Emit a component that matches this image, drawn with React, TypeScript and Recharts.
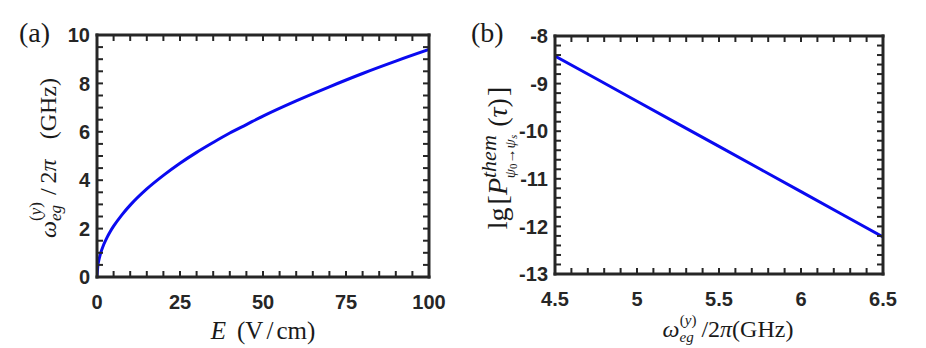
import { LineChart, Line, XAxis, YAxis } from "recharts";

// panel (a): transition frequency vs field
const fieldValues = [0, 0.25, 0.5, 1, 2, 3, 4, 5, 7.5, 10, 15, 20, 25, 30, 35, 40, 45, 50, 60, 70, 80, 90, 100];
const omegaValues = [0, 0.47, 0.66, 0.94, 1.33, 1.63, 1.88, 2.1, 2.57, 2.97, 3.64, 4.2, 4.7, 5.15, 5.56, 5.95, 6.3, 6.65, 7.28, 7.86, 8.41, 8.92, 9.4];
const aMajorX = [0, 25, 50, 75, 100];
const aMajorY = [0, 2, 4, 6, 8, 10];

// panel (b): thermal probability vs frequency
const freqValues = [4.5, 5, 5.5, 6, 6.5];
const lgProbValues = [-8.42, -9.37, -10.32, -11.27, -12.22];
const bMajorX = [4.5, 5, 5.5, 6, 6.5];
const bMajorY = [-13, -12, -11, -10, -9, -8];

const dataA = fieldValues.map((E, i) => ({ E, w: omegaValues[i] }));
const dataB = freqValues.map((f, i) => ({ f, p: lgProbValues[i] }));

const minorTicks = (from: number, to: number, step: number) => {
  const n = Math.round((to - from) / step);
  const out: number[] = [];
  for (let k = 0; k <= n; k++) out.push(Math.round((from + k * step) * 100) / 100);
  return out;
};
const isMajor = (major: number[], v: number) => major.some((m) => Math.abs(m - v) < 1e-6);

const ink = "#262626";
const blue = "#0a0af0";
const serif = '"Liberation Serif", "Times New Roman", serif';
const sans = '"Liberation Sans", Arial, sans-serif';
const frame = { stroke: ink, strokeWidth: 3, strokeLinecap: "square" as const };
const TICK = 6;
const X_GAP = 18;
const Y_GAP = 7;

// inward tick marks (plus bold labels on the majors) drawn at the spot the axis hands us
const makeTick = (side: string, major: number[]) => (props: any) => {
  const { x, y, payload } = props;
  const v = payload.value;
  const label = isMajor(major, v) ? String(v) : "";
  const txt = { fontSize: 20, fontWeight: 700, fill: ink, fontFamily: sans };
  if (side === "bottom") {
    const base = y - X_GAP;
    return (
      <g>
        <line x1={x} x2={x} y1={base} y2={base - TICK} stroke={ink} strokeWidth={2} />
        {label && <text x={x} y={y} dy="0.71em" textAnchor="middle" {...txt}>{label}</text>}
      </g>
    );
  }
  if (side === "left") {
    const base = x + Y_GAP;
    return (
      <g>
        <line x1={base} x2={base + TICK} y1={y} y2={y} stroke={ink} strokeWidth={2} />
        {label && <text x={x} y={y} dy="0.355em" textAnchor="end" {...txt}>{label}</text>}
      </g>
    );
  }
  if (side === "top") {
    return <line x1={x} x2={x} y1={y} y2={y + TICK} stroke={ink} strokeWidth={2} />;
  }
  return <line x1={x} x2={x - TICK} y1={y} y2={y} stroke={ink} strokeWidth={2} />;
};

function Panel({
  data, xKey, yKey, xDomain, yDomain, xTicks, yTicks, xMajor, yMajor,
  width, yAxisW, margin, xAxisH
}: any) {
  return (
    <LineChart width={width} height={348} data={data} margin={margin}>
      <XAxis
        dataKey={xKey}
        type="number"
        domain={xDomain}
        ticks={xTicks}
        interval={0}
        allowDataOverflow
        tickSize={0}
        tickMargin={X_GAP}
        height={xAxisH}
        axisLine={frame}
        tickLine={false}
        tick={makeTick("bottom", xMajor)} />
      <XAxis
        xAxisId="top"
        orientation="top"
        dataKey={xKey}
        type="number"
        domain={xDomain}
        ticks={xTicks}
        interval={0}
        allowDataOverflow
        tickSize={0}
        tickMargin={0}
        height={1}
        axisLine={frame}
        tickLine={false}
        tick={makeTick("top", xMajor)} />
      <YAxis
        type="number"
        domain={yDomain}
        ticks={yTicks}
        interval={0}
        allowDataOverflow
        tickSize={0}
        tickMargin={Y_GAP}
        width={yAxisW}
        axisLine={frame}
        tickLine={false}
        tick={makeTick("left", yMajor)} />
      <YAxis
        yAxisId="right"
        orientation="right"
        type="number"
        domain={yDomain}
        ticks={yTicks}
        interval={0}
        allowDataOverflow
        tickSize={0}
        tickMargin={0}
        width={1}
        axisLine={frame}
        tickLine={false}
        tick={makeTick("right", yMajor)} />
      <Line
        dataKey={yKey}
        type="monotone"
        stroke={blue}
        strokeWidth={3}
        dot={false}
        isAnimationActive={false} />
    </LineChart>
  );
}

export default function App() {
  const it = { fontStyle: "italic" as const };
  return (
    <div style={{ position: "absolute", left: 0, top: 0, width: 926, height: 348, background: "#fff" }}>
      <div style={{ position: "absolute", left: 0, top: 0 }}>
        <Panel
          data={dataA} xKey="E" yKey="w"
          xDomain={[0, 100]} yDomain={[0, 10]}
          xTicks={minorTicks(0, 100, 5)} yTicks={minorTicks(0, 10, 0.5)}
          xMajor={aMajorX} yMajor={aMajorY}
          width={460} yAxisW={97} xAxisH={71}
          margin={{ top: 34, right: 30, bottom: 0, left: 0 }} />
      </div>
      <div style={{ position: "absolute", left: 460, top: 0 }}>
        <Panel
          data={dataB} xKey="f" yKey="p"
          xDomain={[4.5, 6.5]} yDomain={[-13, -8]}
          xTicks={minorTicks(4.5, 6.5, 0.1)} yTicks={minorTicks(-13, -8, 0.2)}
          xMajor={bMajorX} yMajor={bMajorY}
          width={466} yAxisW={95} xAxisH={74}
          margin={{ top: 35, right: 42, bottom: 0, left: 0 }} />
      </div>
      <svg
        width={926}
        height={348}
        style={{ position: "absolute", left: 0, top: 0, pointerEvents: "none" }}
        fontFamily={serif}
        fill="#1a1a1a">
        <text x={19} y={42} fontSize={28}>(a)</text>
        <text x={471} y={42} fontSize={28}>(b)</text>

        <text x={263} y={339} fontSize={25} textAnchor="middle">
          <tspan {...it}>E</tspan>
          <tspan dx={11}>(V</tspan>
          <tspan dx={3}>/</tspan>
          <tspan dx={3}>cm)</tspan>
        </text>

        <text transform="translate(56,158) rotate(-90)" fontSize={24} textAnchor="middle">
          <tspan {...it}>ω</tspan>
          <tspan {...it} fontSize={17} dy={5}>eg</tspan>
          <tspan fontSize={17} dx={-16} dy={-20}>(<tspan {...it}>y</tspan>)</tspan>
          <tspan dx={7} dy={15}>/</tspan>
          <tspan dx={5}>2</tspan>
          <tspan {...it}>π</tspan>
          <tspan dx={20}>(GHz)</tspan>
        </text>

        <text x={728} y={337} fontSize={24} textAnchor="middle">
          <tspan {...it}>ω</tspan>
          <tspan {...it} fontSize={15} dy={5}>eg</tspan>
          <tspan fontSize={15} dx={-14} dy={-17}>(<tspan {...it}>y</tspan>)</tspan>
          <tspan dx={5} dy={12}>/2</tspan>
          <tspan {...it}>π</tspan>
          <tspan>(GHz)</tspan>
        </text>

        <text transform="translate(507,158) rotate(-90)" fontSize={28} textAnchor="middle">
          <tspan>lg</tspan>
          <tspan dx={3}>[</tspan>
          <tspan {...it}>P</tspan>
          <tspan {...it} fontSize={22} dy={-11}>them</tspan>
          <tspan {...it} fontSize={15} dx={-43} dy={19}>ψ</tspan>
          <tspan fontSize={11} dy={2}>0</tspan>
          <tspan fontSize={15} dy={-2}>→</tspan>
          <tspan {...it} fontSize={15}>ψ</tspan>
          <tspan {...it} fontSize={11} dy={2}>s</tspan>
          <tspan dx={8} dy={-10}>(</tspan>
          <tspan {...it}>τ</tspan>
          <tspan>)</tspan>
          <tspan dx={2}>]</tspan>
        </text>
      </svg>
    </div>
  );
}
